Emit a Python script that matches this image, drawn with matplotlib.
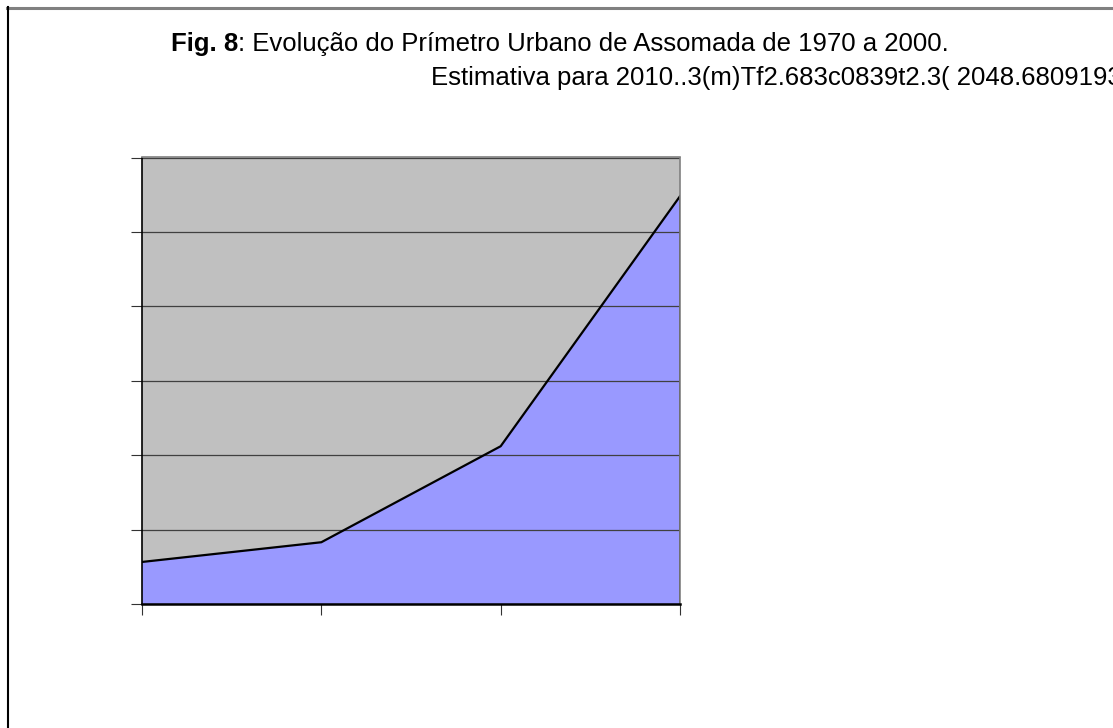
import matplotlib
matplotlib.use("Agg")
from matplotlib import pyplot as plt
from matplotlib.lines import Line2D

# data (no tick labels shown in the original)
years = [1970, 1980, 1990, 2000]
area = [0.565, 0.83, 2.12, 5.48]
y_ticks = [0, 1, 2, 3, 4, 5, 6]

title_bold = "Fig. 8"
title_rest = ": Evolução do Prímetro Urbano de Assomada de 1970 a 2000."
sub_head = "Estimativa para 2010..3(m)Tf2.683c0839t2.3"
sub_tail = "( 2048.6809193"

plt.rcParams['font.family'] = ['Liberation Sans', 'DejaVu Sans']

W, H = 1113, 728
fig = plt.figure(figsize=(W / 100, H / 100), dpi=100)
fig.patch.set_facecolor('white')

ax = fig.add_axes([142 / W, 1 - 604 / H, (680 - 142) / W, (604 - 157.5) / H])
ax.set_facecolor('#c0c0c0')

ax.fill_between(years, area, 0, facecolor='#9999ff', edgecolor='none', zorder=2)
ax.plot(years, area, color='black', lw=1.6, zorder=3)
ax.plot([years[-1], years[-1]], [0, area[-1]], color='black', lw=1.2, zorder=3)

ax.set_xlim(years[0], years[-1])
ax.set_ylim(y_ticks[0], y_ticks[-1])
ax.set_xticks(years)
ax.set_yticks(y_ticks)
ax.set_xticklabels([])
ax.set_yticklabels([])
ax.tick_params(axis='both', direction='out', length=8, width=0.8, color='#333333')
ax.yaxis.grid(True, color='#404040', lw=0.9)
ax.set_axisbelow(False)
for g in ax.get_ygridlines():
    g.set_zorder(1)

ax.spines['left'].set_color('black')
ax.spines['left'].set_linewidth(1.2)
ax.spines['bottom'].set_color('black')
ax.spines['bottom'].set_linewidth(1.8)
ax.spines['top'].set_color('#808080')
ax.spines['top'].set_linewidth(1.2)
ax.spines['right'].set_color('#808080')
ax.spines['right'].set_linewidth(1.2)
for s in ax.spines.values():
    s.set_zorder(4)

# page frame: gray top rule, black left rule
fig.add_artist(Line2D([7 / W, 1], [1 - 7.5 / H, 1 - 7.5 / H], color='#808080', lw=2.2))
fig.add_artist(Line2D([7.5 / W, 7.5 / W], [0, 1 - 7 / H], color='black', lw=1.5))

fs = 18.5
t = fig.text(171 / W, 1 - 51 / H, title_bold, fontsize=fs, fontweight='bold',
             va='baseline', ha='left')
fig.canvas.draw()
bb = t.get_window_extent()
fig.text(bb.x1 / W, 1 - 51 / H, title_rest, fontsize=fs, va='baseline', ha='left')

# second line runs off the right edge; "(" sits at about x=941
fig.text(941 / W, 1 - 85 / H, sub_head, fontsize=fs, va='baseline', ha='right')
fig.text(941 / W, 1 - 85 / H, sub_tail, fontsize=fs, va='baseline', ha='left')

fig.savefig("out.png", dpi=100)
